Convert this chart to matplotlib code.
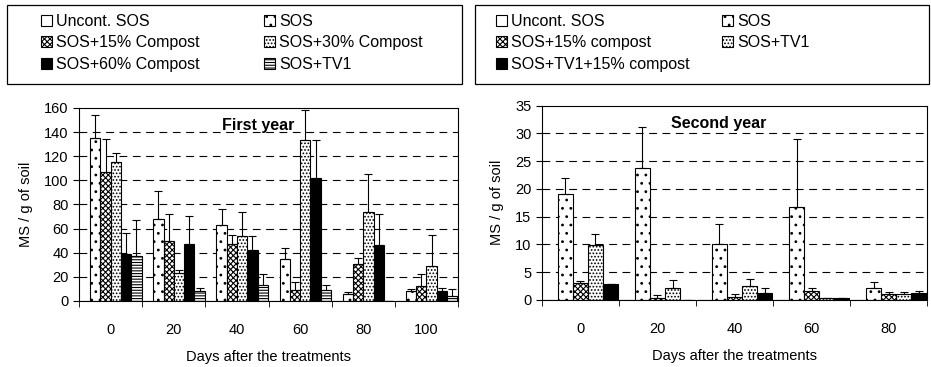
import numpy as np
import matplotlib
matplotlib.use("Agg")
from matplotlib import pyplot as plt
from matplotlib.patches import Patch, Rectangle

plt.rcParams["font.family"] = ["Liberation Sans", "DejaVu Sans"]
plt.rcParams["font.size"] = 10.5
plt.rcParams["hatch.linewidth"] = 0.8

# First year data (values and upper error bars)
days1 = [0, 20, 40, 60, 80, 100]
unc1 = [0, 0, 0, 0, 0, 0]
sos1 = [135, 68, 63, 35, 6, 8]
sos1_err = [19, 23, 13, 9, 1, 2]
c15_1 = [107, 50, 47, 9, 31, 12]
c15_1_err = [27, 22, 8, 7, 5, 10]
c30_1 = [115, 23, 54, 133, 74, 29]
c30_1_err = [8, 3, 20, 25, 31, 26]
c60_1 = [39, 47, 42, 102, 46, 8]
c60_1_err = [17, 23, 12, 31, 26, 3]
tv1_1 = [37, 8, 13, 9, 0, 4]
tv1_1_err = [30, 3, 9, 4, 0, 6]

# Second year data
days2 = [0, 20, 40, 60, 80]
unc2 = [0, 0, 0, 0, 0]
sos2 = [19.1, 23.8, 10.0, 16.7, 2.1]
sos2_err = [2.8, 7.3, 3.7, 12.3, 1.1]
c15_2 = [3.0, 0.3, 0.6, 1.6, 1.1]
c15_2_err = [0.4, 0.5, 0.5, 0.5, 0.4]
tv1_2 = [9.9, 2.2, 2.5, 0.3, 1.1]
tv1_2_err = [2.0, 1.4, 1.2, 0.0, 0.3]
tv1c_2 = [2.8, 0.0, 1.2, 0.3, 1.2]
tv1c_2_err = [0.0, 0.0, 0.9, 0.0, 0.4]

# bar styles: (facecolor, hatch)
styles = {
    "unc": ("white", ""),
    "sparse": ("white", ".."),
    "cross": ("white", "xxxxxx"),
    "dense": ("white", "....."),
    "black": ("black", ""),
    "lines": ("white", "------"),
}

series1 = [
    ("Uncont. SOS", unc1, None, "unc"),
    ("SOS", sos1, sos1_err, "sparse"),
    ("SOS+15% Compost", c15_1, c15_1_err, "cross"),
    ("SOS+30% Compost", c30_1, c30_1_err, "dense"),
    ("SOS+60% Compost", c60_1, c60_1_err, "black"),
    ("SOS+TV1", tv1_1, tv1_1_err, "lines"),
]
series2 = [
    ("Uncont. SOS", unc2, None, "unc"),
    ("SOS", sos2, sos2_err, "sparse"),
    ("SOS+15% compost", c15_2, c15_2_err, "cross"),
    ("SOS+TV1", tv1_2, tv1_2_err, "dense"),
    ("SOS+TV1+15% compost", tv1c_2, tv1c_2_err, "black"),
]


def draw_bars(ax, days, series, ymax, ystep, title, title_x):
    n = len(series)
    x = np.arange(len(days))
    w = 0.98 / n
    handles = []
    for i, (name, vals, err, st) in enumerate(series):
        fc, hatch = styles[st]
        pos = x - 0.49 + w * (i + 0.5)
        yerr = None
        if err is not None:
            yerr = [np.zeros(len(vals)), err]
        ax.bar(pos, vals, w, color=fc, edgecolor="black", hatch=hatch,
               linewidth=0.8, yerr=yerr, zorder=2,
               error_kw=dict(ecolor="black", elinewidth=0.8, capsize=3,
                             capthick=0.8))
        handles.append(Patch(facecolor=fc, edgecolor="black", hatch=hatch,
                             linewidth=0.8, label=name))

    ax.set_xlim(-0.5, len(days) - 0.5)
    ax.set_ylim(0, ymax)
    ax.set_yticks(np.arange(0, ymax + 0.1, ystep))
    for v in np.arange(ystep, ymax, ystep):
        ax.axhline(v, color="black", linestyle=(0, (7, 5)), linewidth=0.8,
                   zorder=0)

    # category labels centred, tick marks between categories
    ax.set_xticks(x)
    ax.set_xticklabels([str(d) for d in days])
    ax.tick_params(axis="x", which="major", length=0, pad=16)
    ax.set_xticks(np.arange(-0.5, len(days)), minor=True)
    ax.tick_params(axis="x", which="minor", length=4, direction="out")
    ax.tick_params(axis="y", length=4, direction="out")

    for s in ax.spines.values():
        s.set_linewidth(0.8)

    ax.set_xlabel("Days after the treatments", labelpad=9)
    ax.set_ylabel("MS / g of soil", labelpad=8)
    ax.text(title_x, ymax * 0.91, title, fontweight="bold", fontsize=11.5,
            ha="center", va="center")
    return handles


fig = plt.figure(figsize=(9.31, 3.67), dpi=100)

ax1 = fig.add_axes([0.085, 0.180, 0.407, 0.526])
h1 = draw_bars(ax1, days1, series1, 160, 20, "First year", 2.33)

ax2 = fig.add_axes([0.582, 0.183, 0.414, 0.529])
h2 = draw_bars(ax2, days2, series2, 35, 5, "Second year", 1.79)

# legend frames
fig.patches.append(Rectangle((0.0075, 0.771), 0.4887, 0.215,
                             transform=fig.transFigure, fill=False,
                             edgecolor="black", linewidth=0.9))
fig.patches.append(Rectangle((0.5102, 0.771), 0.4877, 0.215,
                             transform=fig.transFigure, fill=False,
                             edgecolor="black", linewidth=0.9))

leg_kw = dict(ncol=2, loc="upper left", frameon=False, fontsize=11.5,
              handlelength=0.7, handleheight=0.7, handletextpad=0.25,
              labelspacing=0.4, borderpad=0, borderaxespad=0)

# legends, filled row by row like the original
order1 = [h1[0], h1[2], h1[4], h1[1], h1[3], h1[5]]
fig.legend(handles=order1, bbox_to_anchor=(41 / 931, 1 - 14 / 367),
           columnspacing=4.0, **leg_kw)

order2 = [h2[0], h2[2], h2[4], h2[1], h2[3]]
fig.legend(handles=order2, bbox_to_anchor=(496 / 931, 1 - 14 / 367),
           columnspacing=2.0, **leg_kw)

fig.savefig("out.png", dpi=100)
